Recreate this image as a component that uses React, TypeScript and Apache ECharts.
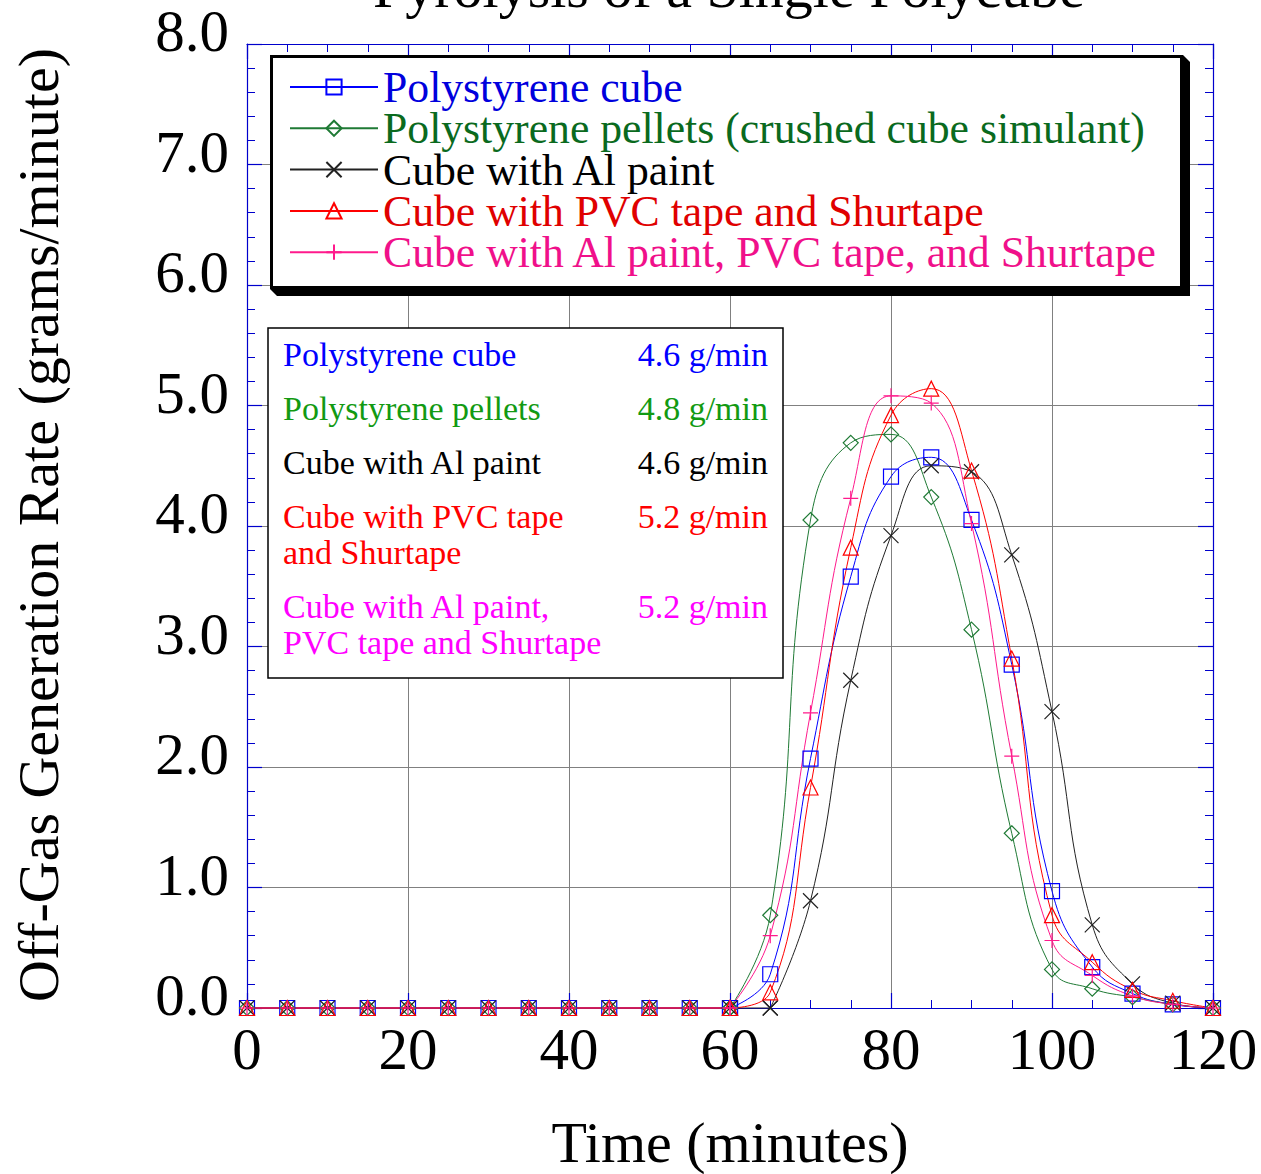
import React, { useEffect, useRef } from 'react';
import * as echarts from 'echarts';

// ---- data ----
const times = [0, 5, 10, 15, 20, 25, 30, 35, 40, 45, 50, 55, 60, 65, 70, 75, 80, 85, 90, 95, 100, 105, 110, 115, 120];
const polystyreneCube = [0, 0, 0, 0, 0, 0, 0, 0, 0, 0, 0, 0, 0, 0.28, 2.07, 3.58, 4.41, 4.57, 4.05, 2.85, 0.97, 0.34, 0.12, 0.03, 0];
const polystyrenePellets = [0, 0, 0, 0, 0, 0, 0, 0, 0, 0, 0, 0, 0, 0.77, 4.05, 4.69, 4.76, 4.24, 3.14, 1.45, 0.32, 0.16, 0.09, 0.03, 0];
const cubeAlPaint = [0, 0, 0, 0, 0, 0, 0, 0, 0, 0, 0, 0, 0, 0, 0.89, 2.72, 3.92, 4.5, 4.45, 3.76, 2.46, 0.69, 0.2, 0.04, 0];
const cubePvcShurtape = [0, 0, 0, 0, 0, 0, 0, 0, 0, 0, 0, 0, 0, 0.13, 1.83, 3.82, 4.92, 5.14, 4.46, 2.9, 0.77, 0.38, 0.15, 0.06, 0];
const cubeAlPvcShurtape = [0, 0, 0, 0, 0, 0, 0, 0, 0, 0, 0, 0, 0, 0.6, 2.45, 4.23, 5.08, 5.02, 4.02, 2.09, 0.56, 0.27, 0.1, 0.03, 0];

const seriesNames = [
  'Polystyrene cube',
  'Polystyrene pellets (crushed cube simulant)',
  'Cube with Al paint',
  'Cube with PVC tape and Shurtape',
  'Cube with Al paint, PVC tape, and Shurtape',
];

const tableLabels = [
  ['Polystyrene cube'],
  ['Polystyrene pellets'],
  ['Cube with Al paint'],
  ['Cube with PVC tape', 'and Shurtape'],
  ['Cube with Al paint,', 'PVC tape and Shurtape'],
];
const tableRates = ['4.6 g/min', '4.8 g/min', '4.6 g/min', '5.2 g/min', '5.2 g/min'];

const titleText = 'Pyrolysis of a Single Polycube';
const xName = 'Time (minutes)';
const yName = 'Off-Gas Generation Rate (grams/minute)';

// ---- styles ----
const FONT = '"Liberation Serif", "Times New Roman", serif';
const AXIS_BLUE = '#0000cc';
const GRID_GRAY = '#808080';

const styles = [
  { line: '#0000ff', legend: '#0000dd', table: '#0000ff', symbol: 'path://M0 0H10V10H0Z' },
  { line: '#1f7a35', legend: '#0a6a1e', table: '#129a12', symbol: 'path://M5 0L10 5L5 10L0 5Z' },
  { line: '#222222', legend: '#000000', table: '#000000', symbol: 'path://M0 0L10 10M10 0L0 10' },
  { line: '#ff0000', legend: '#e00000', table: '#ff0000', symbol: 'path://M5 0L10 10H0Z' },
  { line: '#ff1a8c', legend: '#f0108a', table: '#ff00ff', symbol: 'path://M5 0V10M0 5H10' },
];

const allValues = [polystyreneCube, polystyrenePellets, cubeAlPaint, cubePvcShurtape, cubeAlPvcShurtape];

function buildSeries() {
  const out: any[] = [];
  allValues.forEach((vals, k) => {
    const st = styles[k];
    const peak = vals.indexOf(Math.max(...vals));
    let last0 = 0;
    for (let i = 0; i < peak; i++) if (vals[i] === 0) last0 = i;
    const pts = times.map((t, i) => [t, vals[i]]);
    const common = {
      type: 'line',
      symbol: st.symbol,
      symbolSize: 15,
      showAllSymbol: true,
      clip: false,
      lineStyle: { color: st.line, width: 1 },
      itemStyle: { color: 'none', borderColor: st.line, borderWidth: 1.2 },
      emphasis: { disabled: true },
      z: 3,
    };
    out.push({ ...common, name: seriesNames[k], data: pts.slice(last0), smooth: 0.45 });
    out.push({ ...common, name: seriesNames[k] + ' (flat)', data: pts.slice(0, last0 + 1), smooth: false });
  });
  return out;
}

function axisCommon(showLabel: boolean, showSplit: boolean) {
  return {
    type: 'value',
    axisLine: { show: true, onZero: false, lineStyle: { color: AXIS_BLUE, width: 1.2 } },
    axisTick: { show: true, inside: true, length: 15, lineStyle: { color: AXIS_BLUE, width: 1.2 } },
    minorTick: { show: true, length: 8, lineStyle: { color: AXIS_BLUE, width: 1 } },
    splitLine: { show: showSplit, lineStyle: { color: GRID_GRAY, width: 1 } },
    axisLabel: { show: showLabel, fontSize: 59, fontFamily: FONT, color: '#000' },
  };
}

export default function App() {
  const ref = useRef<HTMLDivElement>(null);
  useEffect(() => {
    if (!ref.current) return;
    const chart = echarts.init(ref.current, null, { renderer: 'svg' });

    const textEl = (text: string, x: number, y: number, size: number, color: string, align: string, rotation = 0) => ({
      type: 'text',
      z: 21,
      x,
      y,
      rotation,
      silent: true,
      style: {
        text,
        fill: color,
        font: `${size}px ${FONT}`,
        align,
        verticalAlign: 'middle',
        textAlign: align,
        textVerticalAlign: 'middle',
      },
    });

    const tableRowCenters = [354.5, 408.5, 462.5, 516.5, 606.5];
    const tableTexts: any[] = [];
    tableLabels.forEach((lines, k) => {
      lines.forEach((ln, j) => {
        tableTexts.push(textEl(ln, 283, tableRowCenters[k] + j * 36, 34, styles[k].table, 'left'));
      });
      tableTexts.push(textEl(tableRates[k], 768, tableRowCenters[k], 34, styles[k].table, 'right'));
    });

    const xa0 = axisCommon(true, true);
    const ya0 = axisCommon(true, true);
    const option: any = {
      animation: false,
      backgroundColor: '#fff',
      grid: { left: 247, right: 48, top: 44, bottom: 166, containLabel: false },
      xAxis: [
        {
          ...xa0,
          min: 0, max: 120, interval: 20, position: 'bottom',
          minorTick: { ...xa0.minorTick, splitNumber: 4 },
          axisLabel: { ...xa0.axisLabel, margin: 11 },
        },
        {
          ...axisCommon(false, false),
          min: 0, max: 120, interval: 20, position: 'top',
          minorTick: { ...axisCommon(false, false).minorTick, splitNumber: 4 },
        },
      ],
      yAxis: [
        {
          ...ya0,
          min: 0, max: 8, interval: 1, position: 'left',
          minorTick: { ...ya0.minorTick, splitNumber: 5 },
          axisLabel: {
            ...ya0.axisLabel,
            margin: 18,
            verticalAlign: 'bottom',
            lineHeight: 26,
            formatter: (v: number) => v.toFixed(1),
          },
        },
        {
          ...axisCommon(false, false),
          min: 0, max: 8, interval: 1, position: 'right',
          minorTick: { ...axisCommon(false, false).minorTick, splitNumber: 5 },
        },
      ],
      legend: {
        orient: 'vertical',
        left: 289,
        top: 65,
        padding: 0,
        itemGap: -2.7,
        itemWidth: 88,
        itemHeight: 19,
        z: 20,
        selectedMode: false,
        textStyle: { fontSize: 43.7, fontFamily: FONT },
        data: seriesNames.map((n, k) => ({ name: n, textStyle: { color: styles[k].legend } })),
      },
      graphic: [
        {
          type: 'polygon', z: 10, silent: true,
          shape: { points: [[1183, 55], [1190, 62], [1190, 296], [277, 296], [270, 289]] },
          style: { fill: '#000' },
        },
        {
          type: 'rect', z: 11, silent: true,
          shape: { x: 271.5, y: 56.5, width: 910, height: 231 },
          style: { fill: '#fff', stroke: '#000', lineWidth: 3 },
        },
        {
          type: 'rect', z: 11, silent: true,
          shape: { x: 268, y: 328, width: 515, height: 350 },
          style: { fill: '#fff', stroke: '#000', lineWidth: 1.5 },
        },
        textEl(titleText, 729, -12.6, 58, '#000', 'center'),
        textEl(xName, 730, 1142, 58, '#000', 'center'),
        textEl(yName, 38, 525, 58, '#000', 'center', Math.PI / 2),
        ...tableTexts,
      ],
      series: buildSeries(),
    };
    chart.setOption(option);
    return () => chart.dispose();
  }, []);

  return (
    <div
      ref={ref}
      style={{ position: 'fixed', left: 0, top: 0, width: '1261px', height: '1174px', background: '#fff' }}
    />
  );
}
